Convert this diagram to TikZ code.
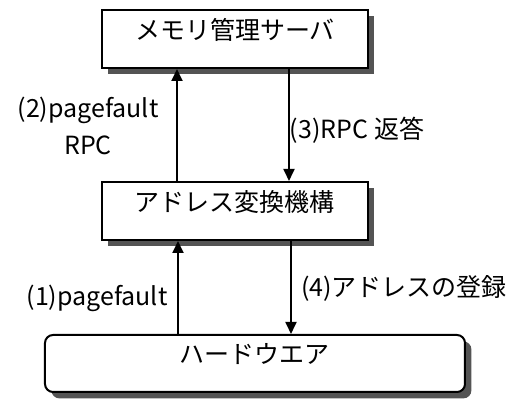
\documentclass[tikz,border=0pt]{standalone}
\usepackage{fontspec}
\setmainfont{Noto Sans CJK JP}
\usetikzlibrary{positioning,shadows,arrows.meta}
\colorlet{box shadow}{black!67}
\tikzset{box/.style={draw, thick, line width=1pt, fill=white, minimum width=133pt, minimum height=29pt,
      drop shadow={shadow xshift=3.2pt, shadow yshift=-3.2pt, fill=box shadow, opacity=1}},
    arr/.style={line width=0.9pt, -{Triangle[length=6pt,width=5.5pt]}},
    lbl/.style={align=center, font=\fontsize{12.5}{18.5}\selectfont}}
\begin{document}
\begin{tikzpicture}[x=0.5pt, y=0.5pt]
\useasboundingbox (0,0) rectangle (511,400);
	\node[box, label={[lbl, yshift=4.5pt]center:メモリ管理サーバ}] (mem) at (235,361) {};
	\node[box, label={[lbl, yshift=4.5pt]center:アドレス変換機構}] (conv) at (235,189) {};
	\node[box, rounded corners=4pt, minimum width=210pt, minimum height=28.5pt,
	  label={[lbl, yshift=4.5pt]center:ハードウエア}] (hw) at (255,36.5) {};
	% arrows
	\draw[arr] ([xshift=-29pt]conv.north) -- ([xshift=-29pt]conv.north |- mem.south);
	\draw[arr] ([xshift=27pt]mem.south) -- ([xshift=27pt]mem.south |- conv.north);
	\draw[arr] ([xshift=-28.5pt]conv.south |- hw.north) -- ([xshift=-28.5pt]conv.south);
	\draw[arr] ([xshift=28pt]conv.south) -- ([xshift=28pt]conv.south |- hw.north);
	% labels
	\node[lbl] (l2) at (88,274) {(2)pagefault\\RPC};
	\node[lbl] (l3) at (357,270) {(3)RPC 返答};
	\node[lbl] (l1) at (97,102) {(1)pagefault};
	\node[lbl] (l4) at (404,112) {(4)アドレスの登録};
\end{tikzpicture}
\end{document}
